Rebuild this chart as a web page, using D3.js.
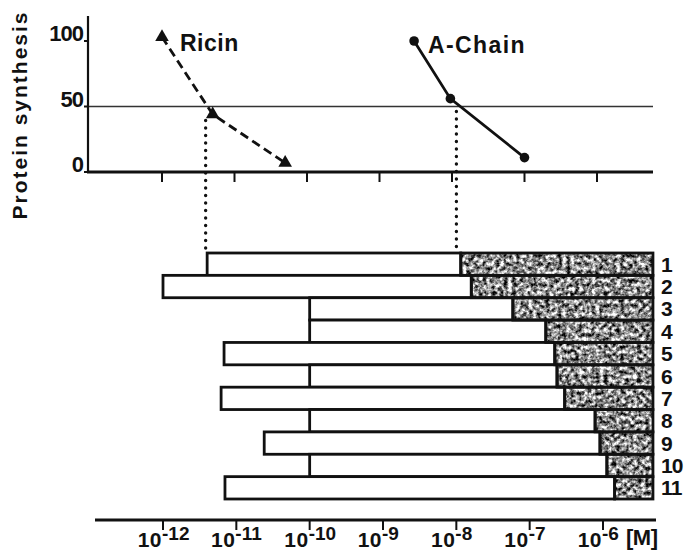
<!DOCTYPE html>
<html>
<head>
<meta charset="utf-8">
<script src="https://cdn.jsdelivr.net/npm/d3@7"></script>
<style>
  html, body { margin: 0; padding: 0; background: #fff; }
  svg { display: block; }
  text { font-family: "Liberation Sans", Arial, Helvetica, sans-serif; font-weight: bold; fill: #111; }
</style>
</head>
<body>
<div id="chart"></div>
<script>
// ---- data -------------------------------------------------------------
// Dose–response of protein synthesis (% of control) vs. toxin concentration (M)
const ricinConc = [1e-12, 5e-12, 5e-11];
const ricinSynthesis = [103, 44, 7];
const chainConc = [3e-9, 9.5e-9, 1e-7];
const chainSynthesis = [100, 56, 11];
// concentrations giving 50 % inhibition
const ic50Ricin = 4e-12;
const ic50Chain = 1.15e-8;

// y-axis ticks (% protein synthesis) and concentration decades
const synthesisTicks = [0, 50, 100];
const decadeTicks = [1e-12, 1e-11, 1e-10, 1e-9, 1e-8, 1e-7, 1e-6];

// Bars 1–11: concentration range (start → split) and the shaded part (split → end)
const barIds = [1, 2, 3, 4, 5, 6, 7, 8, 9, 10, 11];
const barStart = [ic50Ricin, 1e-12, 1e-10, 1e-10, 6.8e-12, 1e-10, 6.2e-12, 1e-10, 2.4e-11, 1e-10, 7e-12];
const barSplit = [ic50Chain, 1.6e-8, 5.9e-8, 1.66e-7, 2.2e-7, 2.36e-7, 3e-7, 7.8e-7, 9.1e-7, 1.13e-6, 1.44e-6];
const barEnd = 4.8e-6;

// ---- layout -----------------------------------------------------------
const W = 685, H = 552;
const svg = d3.select("#chart").append("svg")
  .attr("width", W).attr("height", H);

svg.append("rect").attr("width", W).attr("height", H).attr("fill", "#fff");

// stippled grey texture for the shaded bar segments
const defs = svg.append("defs");
const f = defs.append("filter").attr("id", "stipple")
  .attr("color-interpolation-filters", "sRGB")
  .attr("x", 0).attr("y", 0).attr("width", 1).attr("height", 1);
f.append("feTurbulence").attr("type", "fractalNoise")
  .attr("baseFrequency", 0.24).attr("numOctaves", 3).attr("seed", 11).attr("result", "noise");
f.append("feColorMatrix").attr("in", "noise").attr("type", "matrix")
  .attr("values", "2.1 0 0 0 -0.5  2.1 0 0 0 -0.5  2.1 0 0 0 -0.5  0 0 0 0 1")
  .attr("result", "grey");
f.append("feComposite").attr("in", "grey").attr("in2", "SourceGraphic").attr("operator", "in");

// ---- upper panel: dose–response curves --------------------------------
const xTop = d3.scaleLog().domain([1e-12, 1e-6]).range([162, 597]);
const y = d3.scaleLinear().domain([0, 100]).range([172, 41]);
const axisLeft = 88, axisRight = 653;

const upper = svg.append("g");

// 50 % reference line
upper.append("line")
  .attr("x1", axisLeft).attr("x2", axisRight)
  .attr("y1", y(50)).attr("y2", y(50))
  .attr("stroke", "#333").attr("stroke-width", 1.3);

// y axis
upper.append("line").attr("x1", axisLeft).attr("x2", axisLeft)
  .attr("y1", 16).attr("y2", y(0)).attr("stroke", "#111").attr("stroke-width", 2.2);
upper.selectAll(".ytick").data(synthesisTicks).join("line")
  .attr("x1", axisLeft - 4).attr("x2", axisLeft)
  .attr("y1", d => y(d)).attr("y2", d => y(d))
  .attr("stroke", "#111").attr("stroke-width", 2);
upper.selectAll(".ylab").data(synthesisTicks).join("text")
  .attr("x", 83).attr("y", d => y(d))
  .attr("text-anchor", "end").attr("font-size", 22).attr("letter-spacing", -1)
  .text(d => d);

svg.append("text")
  .attr("transform", "translate(27,115) rotate(-90)")
  .attr("text-anchor", "middle").attr("font-size", 21).attr("letter-spacing", 2)
  .text("Protein synthesis");

// x axis of the upper panel
upper.append("line").attr("x1", axisLeft - 1).attr("x2", axisRight)
  .attr("y1", y(0)).attr("y2", y(0)).attr("stroke", "#111").attr("stroke-width", 3);
upper.selectAll(".xtick").data(decadeTicks).join("line")
  .attr("x1", d => xTop(d)).attr("x2", d => xTop(d))
  .attr("y1", y(0)).attr("y2", y(0) + 10)
  .attr("stroke", "#111").attr("stroke-width", 2);

// dotted drop lines from the 50 % crossings down to bar 1
const dotted = [ic50Ricin, ic50Chain];
upper.selectAll(".drop").data(dotted).join("line")
  .attr("x1", d => xTop(d)).attr("x2", d => xTop(d))
  .attr("y1", (d, i) => i === 0 ? y(50) + 14 : y(50) + 5)
  .attr("y2", 252)
  .attr("stroke", "#111").attr("stroke-width", 3.4)
  .attr("stroke-linecap", "round").attr("stroke-dasharray", "0.1 7.4");

// ricin: dashed line with triangles
const ricin = ricinConc.map((c, i) => [c, ricinSynthesis[i]]);
const chain = chainConc.map((c, i) => [c, chainSynthesis[i]]);
const line = d3.line().x(d => xTop(d[0])).y(d => y(d[1]));

upper.append("path").attr("d", line(ricin))
  .attr("fill", "none").attr("stroke", "#111").attr("stroke-width", 2.8)
  .attr("stroke-dasharray", "9 5");
upper.selectAll(".tri").data(ricin).join("path")
  .attr("transform", d => `translate(${xTop(d[0])},${y(d[1])})`)
  .attr("d", d3.symbol(d3.symbolTriangle, 80))
  .attr("fill", "#111");

// A-chain: solid line with dots
upper.append("path").attr("d", line(chain))
  .attr("fill", "none").attr("stroke", "#111").attr("stroke-width", 2.8);
upper.selectAll(".dot").data(chain).join("circle")
  .attr("cx", d => xTop(d[0])).attr("cy", d => y(d[1])).attr("r", 4.8)
  .attr("fill", "#111");

upper.append("text").attr("x", 180).attr("y", 51)
  .attr("font-size", 23).attr("letter-spacing", 0.5).text("Ricin");
upper.append("text").attr("x", 428).attr("y", 53)
  .attr("font-size", 23).attr("letter-spacing", 1.4).text("A-Chain");

// ---- lower panel: concentration range bars ----------------------------
const xBot = d3.scaleLog().domain([1e-12, 1e-6]).range([163, 603]);
const band = d3.scaleBand().domain(barIds).range([253, 499]).padding(0);

const bars = barIds.map((id, i) => ({ id, start: barStart[i], split: barSplit[i] }));
const lower = svg.append("g");

// shaded segments (textured, one filter pass per segment)
lower.selectAll(".shade").data(bars).join("rect")
  .attr("class", "shade")
  .attr("x", d => xBot(d.split)).attr("y", d => band(d.id))
  .attr("width", d => xBot(barEnd) - xBot(d.split)).attr("height", band.bandwidth())
  .attr("fill", "#000").attr("filter", "url(#stipple)");

// white segments
lower.selectAll(".white").data(bars).join("rect")
  .attr("class", "white")
  .attr("x", d => xBot(d.start)).attr("y", d => band(d.id))
  .attr("width", d => xBot(d.split) - xBot(d.start)).attr("height", band.bandwidth())
  .attr("fill", "#fff").attr("stroke", "#111").attr("stroke-width", 2.8);

// outlines of the shaded segments
lower.selectAll(".outline").data(bars).join("rect")
  .attr("class", "outline")
  .attr("x", d => xBot(d.split)).attr("y", d => band(d.id))
  .attr("width", d => xBot(barEnd) - xBot(d.split)).attr("height", band.bandwidth())
  .attr("fill", "none").attr("stroke", "#111").attr("stroke-width", 2.8);

// bar numbers
lower.selectAll(".num").data(bars).join("text")
  .attr("class", "num")
  .attr("x", xBot(barEnd) + 8).attr("y", d => band(d.id) + band.bandwidth() / 2 + 7.5)
  .attr("font-size", 21).attr("letter-spacing", -0.8)
  .text(d => d.id);

// bottom concentration axis
const axisY = 520;
lower.append("line").attr("x1", 95).attr("x2", 656)
  .attr("y1", axisY).attr("y2", axisY).attr("stroke", "#111").attr("stroke-width", 3);
lower.selectAll(".btick").data(decadeTicks).join("line")
  .attr("class", "btick")
  .attr("x1", d => xBot(d)).attr("x2", d => xBot(d))
  .attr("y1", axisY).attr("y2", axisY + 10)
  .attr("stroke", "#111").attr("stroke-width", 2);

const labels = lower.selectAll(".blab").data(decadeTicks).join("g")
  .attr("class", "blab")
  .attr("transform", d => `translate(${xBot(d)},0)`);
labels.append("text").attr("x", -1).attr("y", 547)
  .attr("text-anchor", "end").attr("font-size", 21).attr("letter-spacing", 0.5)
  .text("10");
labels.append("text").attr("x", -1).attr("y", 540)
  .attr("font-size", 19)
  .text(d => "-" + Math.round(-Math.log10(d)));

lower.append("text").attr("x", 626).attr("y", 545)
  .attr("font-size", 22).attr("letter-spacing", -0.5).text("[M]");
</script>
</body>
</html>
